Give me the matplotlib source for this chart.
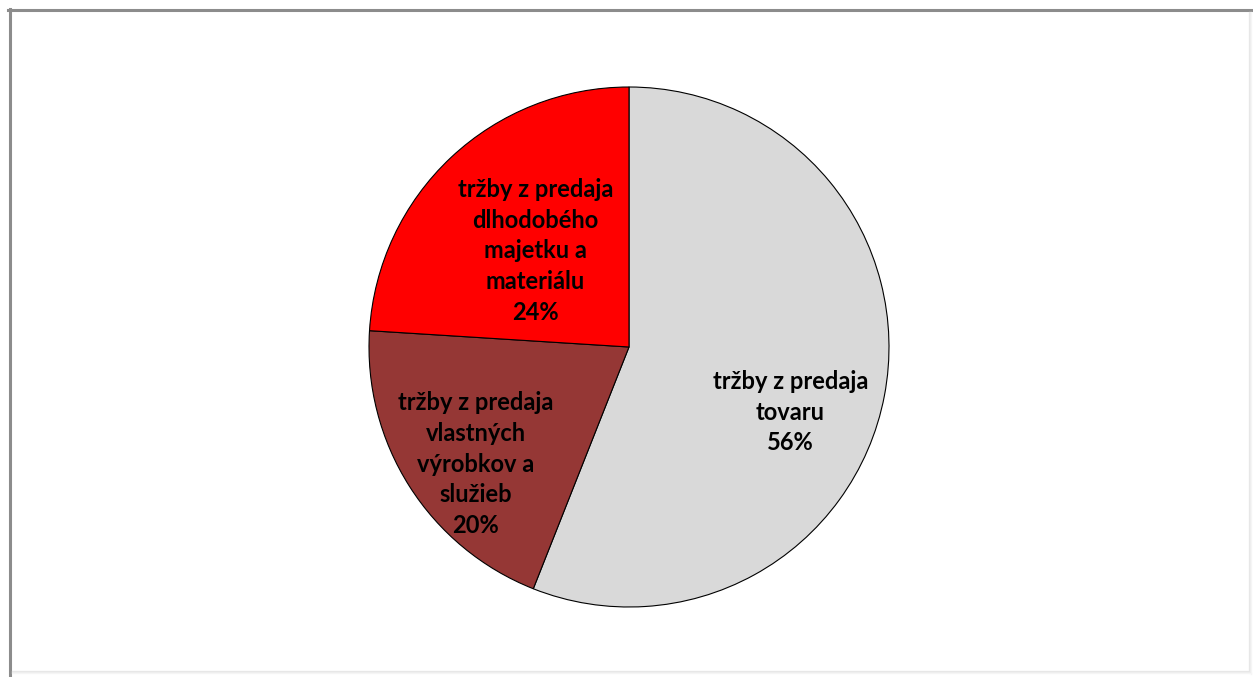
import matplotlib.pyplot as plt
from matplotlib.lines import Line2D

labels = ["tržby z predaja\ntovaru", "tržby z predaja\nvlastných\nvýrobkov a\nslužieb",
          "tržby z predaja\ndlhodobého\nmajetku a\nmateriálu"]
values = [56, 20, 24]
colors = ["#D9D9D9", "#953735", "#FF0000"]
label_xy = [(0.62, -0.25), (-0.59, -0.45), (-0.36, 0.37)]

W, H = 1253, 677
fig = plt.figure(figsize=(W / 100, H / 100), dpi=100)
fig.patch.set_facecolor("white")

# pie centre (629, 347) px, radius 260 px
cx, cy, r = 629, 347, 260
ax = fig.add_axes([(cx - r) / W, (H - cy - r) / H, 2 * r / W, 2 * r / H])
wedges, _ = ax.pie(values, colors=colors, startangle=90, counterclock=False,
                   wedgeprops=dict(edgecolor="black", linewidth=0.8))
ax.set_xlim(-1, 1)
ax.set_ylim(-1, 1)
ax.set_aspect("equal")
ax.axis("off")

for lab, v, (x, y) in zip(labels, values, label_xy):
    ax.text(x, y, f"{lab}\n{v}%", ha="center", va="center", fontsize=17,
            fontweight="bold", family=["Lato", "DejaVu Sans"], linespacing=1.4,
            color="black")

# outer frame: dark top/left, soft shadow right/bottom
def px_line(x0, y0, x1, y1, c, lw):
    fig.add_artist(Line2D([x0 / W, x1 / W], [1 - y0 / H, 1 - y1 / H],
                          color=c, linewidth=lw, transform=fig.transFigure))

px_line(8, 10, 1251, 10, "#8c8c8c", 2.2)
px_line(9.5, 9, 9.5, 677, "#8c8c8c", 2.2)
for i, c in enumerate(["#e6e6e6", "#eeeeee", "#f5f5f5"]):
    px_line(1249 + i, 12, 1249 + i, 672 + i, c, 0.9)
    px_line(12, 671 + i, 1249 + i, 671 + i, c, 0.9)

fig.savefig("out.png", dpi=100)
